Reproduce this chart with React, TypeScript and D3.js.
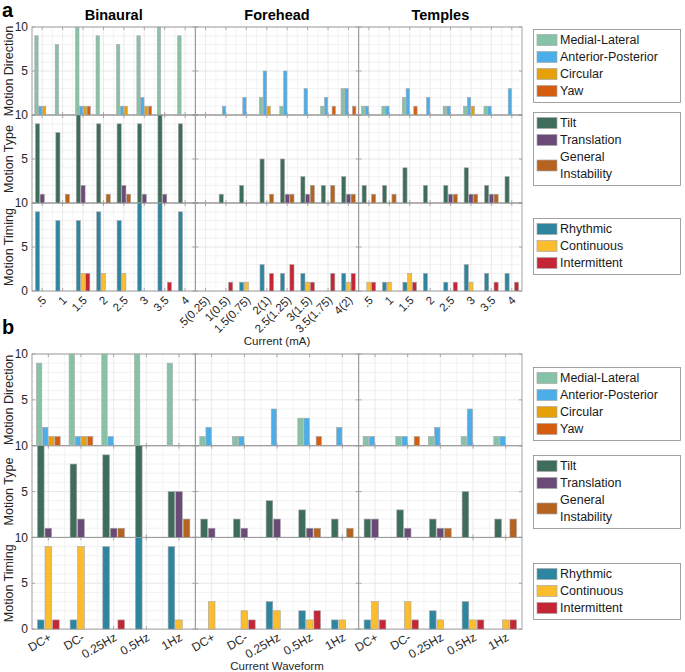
import React, { useEffect, useRef } from 'react';
import * as d3 from 'd3';

// electrode placements and x categories
const locations = ['Binaural', 'Forehead', 'Temples'];
const binauralCurrents = ['.5', '1', '1.5', '2', '2.5', '3', '3.5', '4'];
const foreheadCurrents = ['.5(0.25)', '1(0.5)', '1.5(0.75)', '2(1)', '2.5(1.25)', '3(1.5)', '3.5(1.75)', '4(2)'];
const templeCurrents = ['.5', '1', '1.5', '2', '2.5', '3', '3.5', '4'];
const waveforms = ['DC+', 'DC-', '0.25Hz', '0.5Hz', '1Hz'];
const rowLabels = ['Motion Direction', 'Motion Type', 'Motion Timing'];
const yTicks = [0, 5, 10];

const directionNames = ['Medial-Lateral', 'Anterior-Posterior', 'Circular', 'Yaw'];
const typeNames = ['Tilt', 'Translation', 'General Instability'];
const timingNames = ['Rhythmic', 'Continuous', 'Intermittent'];

const directionColors = ['#86c2a5', '#4caee8', '#e5a00a', '#d45d0f'];
const typeColors = ['#3e6e5b', '#6b4a78', '#b5631f'];
const timingColors = ['#2e85a0', '#fbbd2e', '#c52636'];

// panel a: counts per current level, Binaural | Forehead | Temples
const aMedialLateral = [9, 8, 10, 9, 8, 9, 10, 9, 0, 0, 0, 2, 1, 0, 1, 3, 1, 1, 2, 0, 1, 1, 1, 0];
const aAnteriorPosterior = [1, 0, 1, 0, 1, 2, 0, 0, 0, 1, 2, 5, 5, 3, 2, 3, 1, 1, 3, 2, 1, 2, 1, 3];
const aCircular = [1, 0, 1, 0, 1, 1, 0, 0, 0, 0, 0, 1, 0, 0, 0, 0, 0, 0, 0, 0, 0, 1, 0, 0];
const aYaw = [0, 0, 1, 0, 0, 1, 0, 0, 0, 0, 0, 0, 0, 0, 1, 1, 0, 0, 1, 0, 0, 0, 0, 0];
const aTilt = [9, 8, 10, 9, 9, 9, 10, 9, 0, 1, 2, 5, 5, 3, 2, 3, 2, 2, 4, 2, 2, 4, 2, 3];
const aTranslation = [1, 0, 2, 0, 2, 1, 1, 0, 0, 0, 0, 0, 1, 1, 0, 1, 0, 0, 0, 0, 1, 1, 1, 0];
const aInstability = [0, 1, 0, 1, 1, 0, 0, 0, 0, 0, 0, 1, 1, 2, 2, 1, 1, 1, 0, 0, 1, 1, 1, 0];
const aRhythmic = [9, 8, 8, 9, 8, 10, 10, 9, 0, 0, 1, 3, 2, 2, 0, 2, 0, 1, 1, 2, 1, 3, 2, 2];
const aContinuous = [0, 0, 2, 2, 2, 0, 0, 0, 0, 0, 1, 0, 0, 1, 0, 1, 1, 1, 2, 0, 0, 1, 0, 0];
const aIntermittent = [0, 0, 2, 0, 0, 0, 1, 0, 0, 1, 0, 2, 3, 1, 2, 2, 1, 0, 1, 0, 1, 0, 1, 1];

// panel b: counts per waveform, Binaural | Forehead | Temples
const bMedialLateral = [9, 10, 10, 10, 9, 1, 1, 0, 3, 0, 1, 1, 1, 1, 1];
const bAnteriorPosterior = [2, 1, 1, 0, 0, 2, 1, 4, 3, 2, 1, 1, 2, 4, 1];
const bCircular = [1, 1, 0, 0, 0, 0, 0, 0, 0, 0, 0, 0, 0, 0, 0];
const bYaw = [1, 1, 0, 0, 0, 0, 0, 0, 1, 0, 0, 1, 0, 0, 0];
const bTilt = [10, 8, 9, 10, 5, 2, 2, 4, 3, 2, 2, 3, 2, 5, 2];
const bTranslation = [1, 2, 1, 0, 5, 1, 1, 2, 1, 0, 2, 1, 1, 0, 0];
const bInstability = [0, 0, 1, 0, 2, 0, 0, 0, 1, 1, 0, 0, 1, 0, 2];
const bRhythmic = [1, 1, 9, 10, 9, 0, 0, 3, 2, 1, 1, 0, 2, 3, 0];
const bContinuous = [9, 9, 0, 0, 1, 3, 2, 2, 1, 1, 3, 3, 1, 1, 1];
const bIntermittent = [1, 0, 1, 0, 0, 0, 1, 0, 2, 0, 1, 1, 0, 1, 1];

const FONT = '"Liberation Sans", Arial, Helvetica, sans-serif';
const plotLeft = 32;
const plotRight = 522;

interface Row {
  values: number[][];
  colors: string[];
  names: string[];
}

interface PanelSpec {
  letter: string;
  letterY: number;
  top: number;
  rowH: number;
  categories: string[][];
  rows: Row[];
  showTitles: boolean;
  labelAngle: number;
  labelSize: number;
  xTitle: string;
  xTitleY: number;
  legendTops: number[];
}

const panelA: PanelSpec = {
  letter: 'a',
  letterY: 17,
  top: 27,
  rowH: 88,
  categories: [binauralCurrents, foreheadCurrents, templeCurrents],
  rows: [
    { values: [aMedialLateral, aAnteriorPosterior, aCircular, aYaw], colors: directionColors, names: directionNames },
    { values: [aTilt, aTranslation, aInstability], colors: typeColors, names: typeNames },
    { values: [aRhythmic, aContinuous, aIntermittent], colors: timingColors, names: timingNames },
  ],
  showTitles: true,
  labelAngle: -45,
  labelSize: 11.5,
  xTitle: 'Current (mA)',
  xTitleY: 345,
  legendTops: [29, 112, 218],
};

const panelB: PanelSpec = {
  letter: 'b',
  letterY: 334,
  top: 354,
  rowH: 91.7,
  categories: [waveforms, waveforms, waveforms],
  rows: [
    { values: [bMedialLateral, bAnteriorPosterior, bCircular, bYaw], colors: directionColors, names: directionNames },
    { values: [bTilt, bTranslation, bInstability], colors: typeColors, names: typeNames },
    { values: [bRhythmic, bContinuous, bIntermittent], colors: timingColors, names: timingNames },
  ],
  showTitles: false,
  labelAngle: -30,
  labelSize: 12,
  xTitle: 'Current Waveform',
  xTitleY: 670,
  legendTops: [367, 455, 563],
};

function drawLegend(svg: any, top: number, row: Row) {
  const lineH = 17;
  const g = svg.append('g');
  let yy = top + 11;
  const items: { color: string; y: number; lines: string[] }[] = [];
  row.names.forEach((name, i) => {
    const lines = name === 'General Instability' ? ['General', 'Instability'] : [name];
    const cy = yy + ((lines.length - 1) * lineH) / 2;
    items.push({ color: row.colors[i], y: cy, lines });
    yy += lines.length * lineH;
  });
  const boxH = yy - lineH - top + 11;
  g.append('rect')
    .attr('x', 533.5).attr('y', top + 0.5)
    .attr('width', 147).attr('height', boxH)
    .attr('fill', '#fff').attr('stroke', '#8c8c8c').attr('stroke-width', 0.8);
  items.forEach(it => {
    g.append('rect')
      .attr('x', 537).attr('y', it.y - 5.5)
      .attr('width', 20).attr('height', 11)
      .attr('fill', it.color).attr('stroke', '#a8a8a8').attr('stroke-width', 0.7);
    const t = g.append('text')
      .attr('x', 560).attr('y', it.y - ((it.lines.length - 1) * lineH) / 2)
      .attr('font-family', FONT).attr('font-size', 12.5).attr('fill', '#1a1a1a');
    it.lines.forEach((ln, k) => {
      t.append('tspan').attr('x', 560).attr('dy', k === 0 ? '0.35em' : lineH).text(ln);
    });
  });
}

function drawPanel(svg: any, p: PanelSpec) {
  const colW = (plotRight - plotLeft) / 3;
  const nRows = p.rows.length;
  const bottom = p.top + nRows * p.rowH;
  const grid = svg.append('g');
  const frame = svg.append('g');
  const bars = svg.append('g');
  const labels = svg.append('g').attr('font-family', FONT);

  p.categories.forEach((cats, c) => {
    const x0 = plotLeft + c * colW;
    const x = d3.scaleBand<number>().domain(d3.range(cats.length)).range([x0, x0 + colW]);
    const bw = x.bandwidth();

    p.rows.forEach((row, r) => {
      const y = d3.scaleLinear().domain([0, 10]).range([p.top + (r + 1) * p.rowH, p.top + r * p.rowH]);

      // minor and major grid
      d3.range(0, 11).forEach(v => {
        grid.append('line')
          .attr('x1', x0).attr('x2', x0 + colW).attr('y1', y(v)).attr('y2', y(v))
          .attr('stroke', v % 5 === 0 ? '#dcdcdc' : '#ededed').attr('stroke-width', 0.7);
      });
      cats.forEach((_, i) => {
        const cx = (x(i) as number) + bw / 2;
        [cx, cx - bw / 2].forEach((gx, k) => {
          grid.append('line')
            .attr('x1', gx).attr('x2', gx).attr('y1', y(0)).attr('y2', y(10))
            .attr('stroke', k === 0 ? '#e2e2e2' : '#efefef').attr('stroke-width', 0.7);
        });
        // inward ticks at category positions
        frame.append('line').attr('x1', cx).attr('x2', cx).attr('y1', y(0)).attr('y2', y(0) - 3)
          .attr('stroke', '#8c8c8c').attr('stroke-width', 0.7);
        frame.append('line').attr('x1', cx).attr('x2', cx).attr('y1', y(10)).attr('y2', y(10) + 3)
          .attr('stroke', '#8c8c8c').attr('stroke-width', 0.7);
      });
      yTicks.forEach(v => {
        frame.append('line').attr('x1', x0).attr('x2', x0 + 3).attr('y1', y(v)).attr('y2', y(v))
          .attr('stroke', '#8c8c8c').attr('stroke-width', 0.7);
        frame.append('line').attr('x1', x0 + colW).attr('x2', x0 + colW - 3).attr('y1', y(v)).attr('y2', y(v))
          .attr('stroke', '#8c8c8c').attr('stroke-width', 0.7);
      });
      frame.append('rect')
        .attr('x', x0).attr('y', y(10)).attr('width', colW).attr('height', y(0) - y(10))
        .attr('fill', 'none').attr('stroke', '#9a9a9a').attr('stroke-width', 0.9);

      // grouped bars
      const n = row.values.length;
      const groupW = (bw * n) / (n + 1.5);
      const inner = d3.scaleBand<number>().domain(d3.range(n)).range([-groupW / 2, groupW / 2]).paddingInner(0.12);
      row.values.forEach((series, s) => {
        const vals = series.slice(c * cats.length, (c + 1) * cats.length);
        bars.selectAll(null)
          .data(vals.map((v, i) => ({ v, i })).filter(d => d.v > 0))
          .enter()
          .append('rect')
          .attr('x', (d: any) => (x(d.i) as number) + bw / 2 + (inner(s) as number))
          .attr('y', (d: any) => y(d.v))
          .attr('width', inner.bandwidth())
          .attr('height', (d: any) => y(0) - y(d.v))
          .attr('fill', row.colors[s])
          .attr('stroke', '#a8a8a8')
          .attr('stroke-width', 0.6);
      });

      if (c === 0) {
        const ticks = r === nRows - 1 ? yTicks : yTicks.filter(v => v > 0);
        ticks.forEach(v => {
          labels.append('text')
            .attr('x', 28).attr('y', y(v)).attr('dy', '0.35em')
            .attr('text-anchor', 'end').attr('font-size', 12).attr('fill', '#262626')
            .text(v);
        });
        labels.append('text')
          .attr('transform', `translate(13, ${(y(0) + y(10)) / 2}) rotate(-90)`)
          .attr('text-anchor', 'middle').attr('font-size', 12.5).attr('fill', '#262626')
          .text(rowLabels[r]);
      }
    });

    // rotated category labels under the bottom row
    cats.forEach((lab, i) => {
      const cx = (x(i) as number) + bw / 2;
      labels.append('text')
        .attr('transform', `translate(${cx + 2}, ${bottom + 7}) rotate(${p.labelAngle})`)
        .attr('text-anchor', 'end').attr('dy', '0.35em')
        .attr('font-size', p.labelSize).attr('fill', '#262626')
        .text(lab);
    });

    if (p.showTitles) {
      labels.append('text')
        .attr('x', x0 + colW / 2).attr('y', 20)
        .attr('text-anchor', 'middle').attr('font-size', 14.5).attr('font-weight', 'bold').attr('fill', '#000')
        .text(locations[c]);
    }
  });

  labels.append('text')
    .attr('x', (plotLeft + plotRight) / 2).attr('y', p.xTitleY)
    .attr('text-anchor', 'middle').attr('font-size', 11.5).attr('fill', '#262626')
    .text(p.xTitle);

  labels.append('text')
    .attr('x', 2).attr('y', p.letterY)
    .attr('font-size', 20).attr('font-weight', 'bold').attr('fill', '#000')
    .text(p.letter);

  p.rows.forEach((row, r) => drawLegend(svg, p.legendTops[r], row));
}

export default function App() {
  const ref = useRef<SVGSVGElement>(null);

  useEffect(() => {
    const svg = d3.select(ref.current);
    svg.selectAll('*').remove();
    svg.append('rect').attr('width', 685).attr('height', 672).attr('fill', '#fff');
    drawPanel(svg, panelA);
    drawPanel(svg, panelB);
  }, []);

  return (
    <svg
      ref={ref}
      width={685}
      height={672}
      style={{ position: 'absolute', left: 0, top: 0, display: 'block' }}
    />
  );
}
